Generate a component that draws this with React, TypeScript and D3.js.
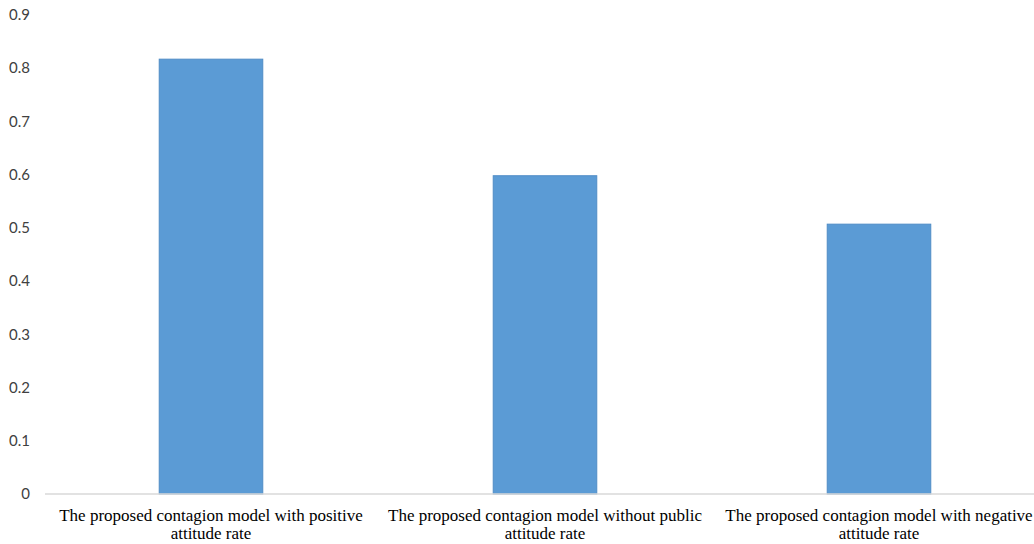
import React from 'react';
import * as d3 from 'd3';

const categories = ['positive', 'without', 'negative'];
const categoryLines = [
  ['The proposed contagion model with positive', 'attitude rate'],
  ['The proposed contagion model without public', 'attitude rate'],
  ['The proposed contagion model with negative', 'attitude rate'],
];
const values = [0.817, 0.598, 0.507];
const yTicks = [0, 0.1, 0.2, 0.3, 0.4, 0.5, 0.6, 0.7, 0.8, 0.9];

const App = () => {
  const width = 1034;
  const height = 544;

  const x = d3.scaleBand()
    .domain(categories)
    .range([44, 1046])
    .paddingInner(0.69)
    .paddingOuter(0.345);

  const y = d3.scaleLinear().domain([0, 0.9]).range([494, 15]);

  return (
    <svg width={width} height={height} style={{ position: 'absolute', left: 0, top: 0 }}>
      <rect width={width} height={height} fill="#ffffff" />

      {/* y tick labels */}
      {yTicks.map(t => (
        <text
          key={t}
          x={30}
          y={y(t)}
          dy="0.35em"
          textAnchor="end"
          style={{ fontFamily: 'Lato, "Open Sans", sans-serif', fontSize: '15px', fill: '#404040' }}
        >
          {d3.format('~g')(t)}
        </text>
      ))}

      {/* bars */}
      {categories.map((c, i) => (
        <rect
          key={c}
          x={x(c)}
          y={y(values[i])}
          width={x.bandwidth()}
          height={y(0) - y(values[i])}
          fill="#5b9bd5"
          stroke="#4f8cc6"
          strokeWidth={1}
        />
      ))}

      {/* baseline */}
      <line x1={45} x2={1034} y1={y(0)} y2={y(0)} stroke="#d9d9d9" strokeWidth={1.5} />

      {/* category labels */}
      {categories.map((c, i) => (
        <text
          key={c}
          x={x(c) + x.bandwidth() / 2}
          y={515}
          textAnchor="middle"
          style={{ fontFamily: '"Liberation Serif", "Times New Roman", serif', fontSize: '17px', fill: '#000000' }}
        >
          {categoryLines[i].map((line, j) => (
            <tspan key={j} x={x(c) + x.bandwidth() / 2} dy={j === 0 ? '0.35em' : '18px'}>
              {line}
            </tspan>
          ))}
        </text>
      ))}
    </svg>
  );
};

export default App;
